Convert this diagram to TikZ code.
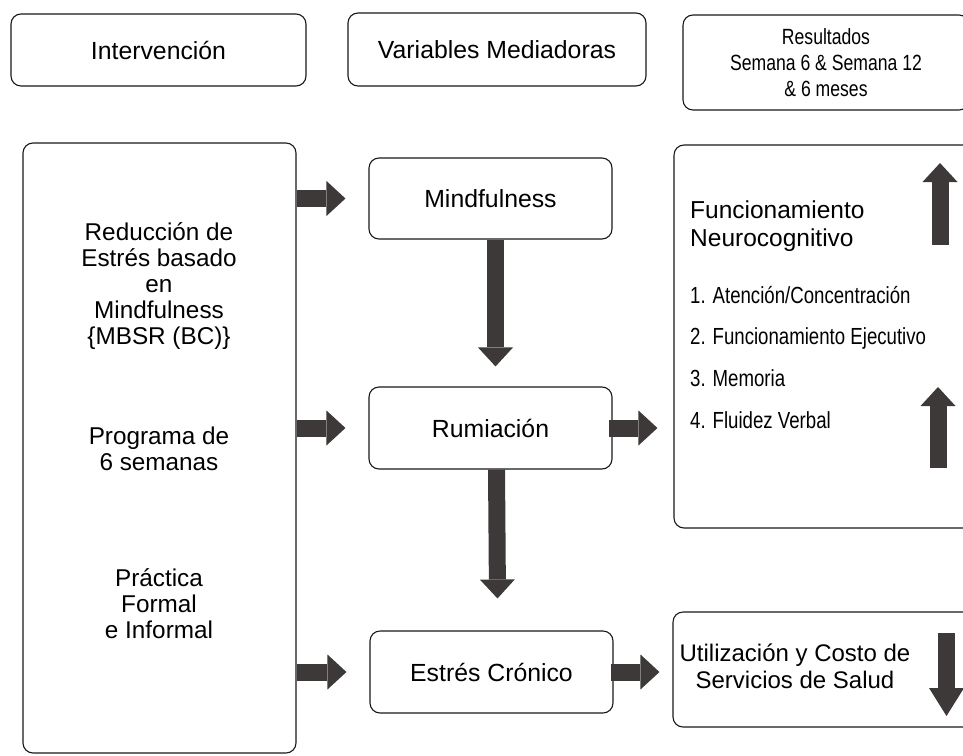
\documentclass[tikz,border=0pt]{standalone}
\usepackage{fontspec}
\setmainfont{Liberation Sans}
\newfontfamily\narrowfont[FakeStretch=0.80]{Liberation Sans}
\usepackage{tikz}
\usetikzlibrary{calc}
\usetikzlibrary{arrows.meta}
\definecolor{arrowgray}{RGB}{62,57,57}

\begin{document}
\begin{tikzpicture}[>=latex, x=1pt, y=-1pt,
		box/.style={rectangle, draw=black!90, line width=1.1pt, rounded corners=10pt, align=center, font=\fontsize{24.8}{26}\selectfont},
		lbl/.style={inner sep=0pt, align=center, font=\fontsize{24}{26}\selectfont},
		nrw/.style={anchor=base west, inner sep=0pt, font=\narrowfont\fontsize{23.3}{26}\selectfont},
		bigarrow/.style={draw=arrowgray, line width=17pt, -{Triangle[width=35pt, length=19pt, line width=0pt]}}]
			\useasboundingbox (0,0) rectangle (963,755);
			\clip (0,0) rectangle (963,755);
			%headers
			\node at (158.5,50) (intv) [box, minimum width=295pt, minimum height=72pt] {Intervención};
			\node at (497,49.5) (medi) [box, minimum width=298pt, minimum height=73pt] {Variables Mediadoras};
			\node at (826,62.5) (resu) [box, minimum width=286pt, minimum height=95pt, font=\narrowfont\fontsize{22}{26}\selectfont] {Resultados\\Semana 6 \& Semana 12\\\& 6 meses};

			%intervention box
			\node at (159.5,448) (intbox) [box, minimum width=273pt, minimum height=610pt] {};
			\node at (159,286) (mbsr) [lbl, font=\fontsize{24.3}{26}\selectfont] {Reducción de\\Estrés basado\\en\\Mindfulness\\\{MBSR (BC)\}};
			\node at (159,449) (prog) [lbl, font=\fontsize{24.3}{26}\selectfont] {Programa de\\6 semanas};
			\node at (159,604) (prac) [lbl, font=\fontsize{24.3}{26}\selectfont] {Práctica\\Formal\\e Informal};

			%mediators
			\node at (490.5,198.5) (mind) [box, minimum width=243pt, minimum height=81pt] {Mindfulness};
			\node at (490.5,428) (rum) [box, minimum width=243pt, minimum height=82pt] {Rumiación};
			\node at (491.5,672) (stress) [box, minimum width=243pt, minimum height=82pt] {Estrés Crónico};

			%outcomes
			\node at (824.5,336.5) (neuro) [box, minimum width=301pt, minimum height=383pt] {};
			\node [lbl, anchor=north west, align=left, font=\fontsize{24.5}{27.5}\selectfont] at (690,201) (neurotit) {Funcionamiento\\Neurocognitivo};
			\node [nrw] at (690,303) (item1) {1. Atención/Concentración};
			\node [nrw] at ($(item1.base west) + (0,41.7)$) (item2) {2. Funcionamiento Ejecutivo};
			\node [nrw] at ($(item2.base west) + (0,41.7)$) (item3) {3. Memoria};
			\node [nrw] at ($(item3.base west) + (0,41.7)$) (item4) {4. Fluidez Verbal};
			\node at (824,669.5) (cost) [box, minimum width=302pt, minimum height=115pt] {};
			\node [lbl, font=\fontsize{24}{27}\selectfont] at (795,666) (costtxt) {Utilización y Costo de\\Servicios de Salud};

			%arrows
			\draw [bigarrow] (intbox.east |- mind.west) -- ([xshift=-23pt]mind.west);
			\draw [bigarrow] (intbox.east |- rum.west) -- ([xshift=-23pt]rum.west);
			\draw [bigarrow] (intbox.east |- stress.west) -- ([xshift=-23pt]stress.west);
			\draw [bigarrow] ([xshift=5pt]mind.south) -- ($(rum.north) + (5,-20)$);
			\draw [bigarrow] ([xshift=6pt]rum.south) -- ($(stress.north) + (6,-32)$);
			\draw [bigarrow] ([xshift=-4pt]rum.east) -- ([xshift=-16pt]rum.east -| neuro.west);
			\draw [bigarrow] ([xshift=-3pt]stress.east) -- ([xshift=-13pt]stress.east -| cost.west);

			%up and down marks
			\draw [bigarrow] (940,245) -- (940,163);
			\draw [bigarrow] (938,468) -- (938,387);
			\draw [bigarrow, -{Triangle[width=35pt, length=28pt, line width=0pt]}] (946.5,633) -- (946.5,716);
		\end{tikzpicture}
\end{document}
